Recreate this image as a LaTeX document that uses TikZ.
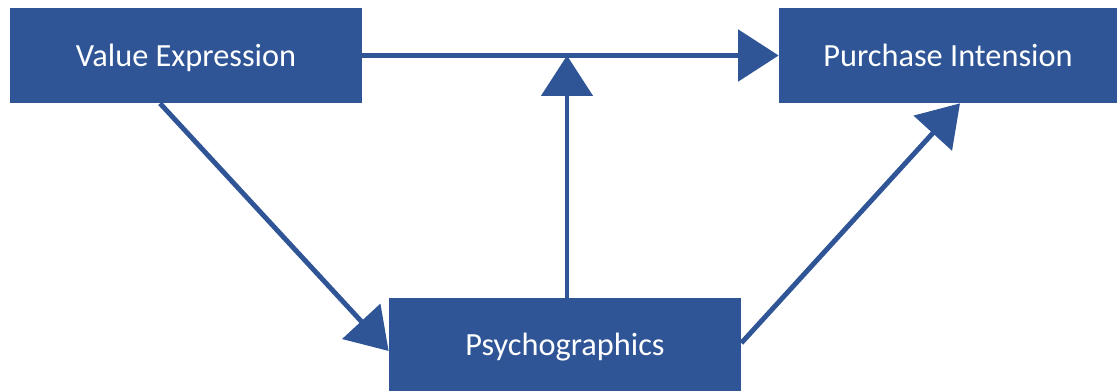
\documentclass[tikz,border=0pt]{standalone}
\usepackage{fontspec}
\setmainfont{Carlito}
\usepackage{tikz}
\usetikzlibrary{arrows.meta,positioning,calc}
\definecolor{boxblue}{RGB}{47,85,151}

\begin{document}
\begin{tikzpicture}[font=\fontsize{18.4}{22}\selectfont,
  box/.style={fill=boxblue,text=white,minimum height=1.9cm,inner sep=0pt,text depth=-1pt},
  link/.style={draw=boxblue,line width=2.8pt,-{Triangle[length=23pt,width=29pt]}}]
\useasboundingbox (0,0) rectangle (22.4,7.82);
\node[box,minimum width=7.04cm] (ve) at (3.72,6.71) {Value Expression};
\node[box,minimum width=6.76cm] (pi) at (18.96,6.71) {Purchase Intension};
\node[box,minimum width=7.04cm,minimum height=1.86cm] (psy) at (11.3,0.93) {Psychographics};
\coordinate (m) at ([xshift=0.04cm]psy.north |- ve.east);
\draw[link] (ve.east) -- (pi.west);
\draw[link] ([xshift=0.04cm]psy.north) -- (m);
\draw[link] ([xshift=-0.52cm]ve.south) -- ([yshift=-0.13cm]psy.west);
\draw[link] ([yshift=0.03cm]psy.east) -- ([xshift=0.24cm]pi.south);
\end{tikzpicture}
\end{document}
